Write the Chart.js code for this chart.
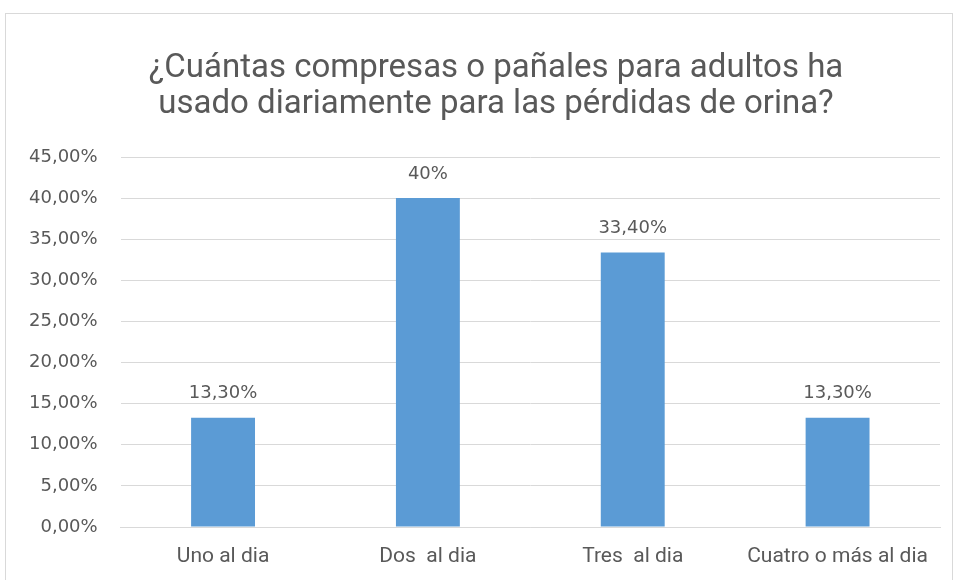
<!DOCTYPE html>
<html>
<head>
<meta charset="utf-8">
<script src="https://cdn.jsdelivr.net/npm/chart.js@4/dist/chart.umd.min.js"></script>
<style>
  html, body { margin: 0; padding: 0; background: #fff; }
  #wrap { position: relative; width: 954px; height: 580px; overflow: hidden; }
  #frame { position: absolute; left: 5px; top: 13px; width: 946px; height: 600px; border: 1px solid #d9d9d9; }
  canvas { position: absolute; left: 0; top: 0; }
</style>
</head>
<body>
<div id="wrap">
  <div id="frame"></div>
  <canvas id="chart" width="954" height="580"></canvas>
</div>
<script>
// datos del gráfico
const categorias = ['Uno al dia', 'Dos  al dia', 'Tres  al dia', 'Cuatro o más al dia'];
const porcentajes = [13.3, 40, 33.4, 13.3];
const etiquetas = ['13,30%', '40%', '33,40%', '13,30%'];
const tituloLineas = ['¿Cuántas compresas o pañales para adultos ha', 'usado diariamente para las pérdidas de orina?'];

const gris = '#595959';

// título en dos líneas (un poco desplazado a la derecha, como en el original)
const tituloPlugin = {
    id: 'tituloPlugin',
    afterDraw(chart) {
        const ctx = chart.ctx;
        ctx.save();
        ctx.font = '33px Roboto';
        ctx.fillStyle = gris;
        ctx.textAlign = 'center';
        ctx.textBaseline = 'alphabetic';
        tituloLineas.forEach((t, i) => ctx.fillText(t, 496, 77 + i * 36));
        ctx.restore();
    }
};

// etiquetas encima de las barras
const etiquetasBarras = {
    id: 'etiquetasBarras',
    afterDatasetsDraw(chart) {
        const ctx = chart.ctx;
        const meta = chart.getDatasetMeta(0);
        ctx.save();
        ctx.font = '18px "DejaVu Sans"';
        ctx.fillStyle = gris;
        ctx.textAlign = 'center';
        ctx.textBaseline = 'bottom';
        meta.data.forEach((bar, i) => {
            ctx.fillText(etiquetas[i], bar.x, bar.y - 15);
        });
        ctx.restore();
    }
};

new Chart(document.getElementById('chart'), {
    type: 'bar',
    data: {
        labels: categorias,
        datasets: [{
            data: porcentajes,
            backgroundColor: '#5b9bd5',
            barPercentage: 1,
            categoryPercentage: 0.312
        }]
    },
    options: {
        responsive: false,
        animation: false,
        layout: { padding: { left: 6, right: 14, bottom: 0, top: 157 } },
        plugins: {
            legend: { display: false },
            tooltip: { enabled: false },
            title: { display: false }
        },
        scales: {
            y: {
                min: 0,
                max: 45,
                ticks: {
                    stepSize: 5,
                    color: gris,
                    padding: 23,
                    font: { family: 'DejaVu Sans', size: 18 },
                    callback: v => v.toFixed(2).replace('.', ',') + '%'
                },
                grid: { color: '#d9d9d9', drawTicks: false },
                border: { display: false }
            },
            x: {
                afterFit: scale => { scale.height = 53; },
                ticks: {
                    color: gris,
                    padding: 17,
                    font: { family: 'Roboto', size: 21 }
                },
                grid: { display: false, drawTicks: false },
                border: { color: '#d9d9d9' }
            }
        }
    },
    plugins: [etiquetasBarras, tituloPlugin]
});
</script>
</body>
</html>
